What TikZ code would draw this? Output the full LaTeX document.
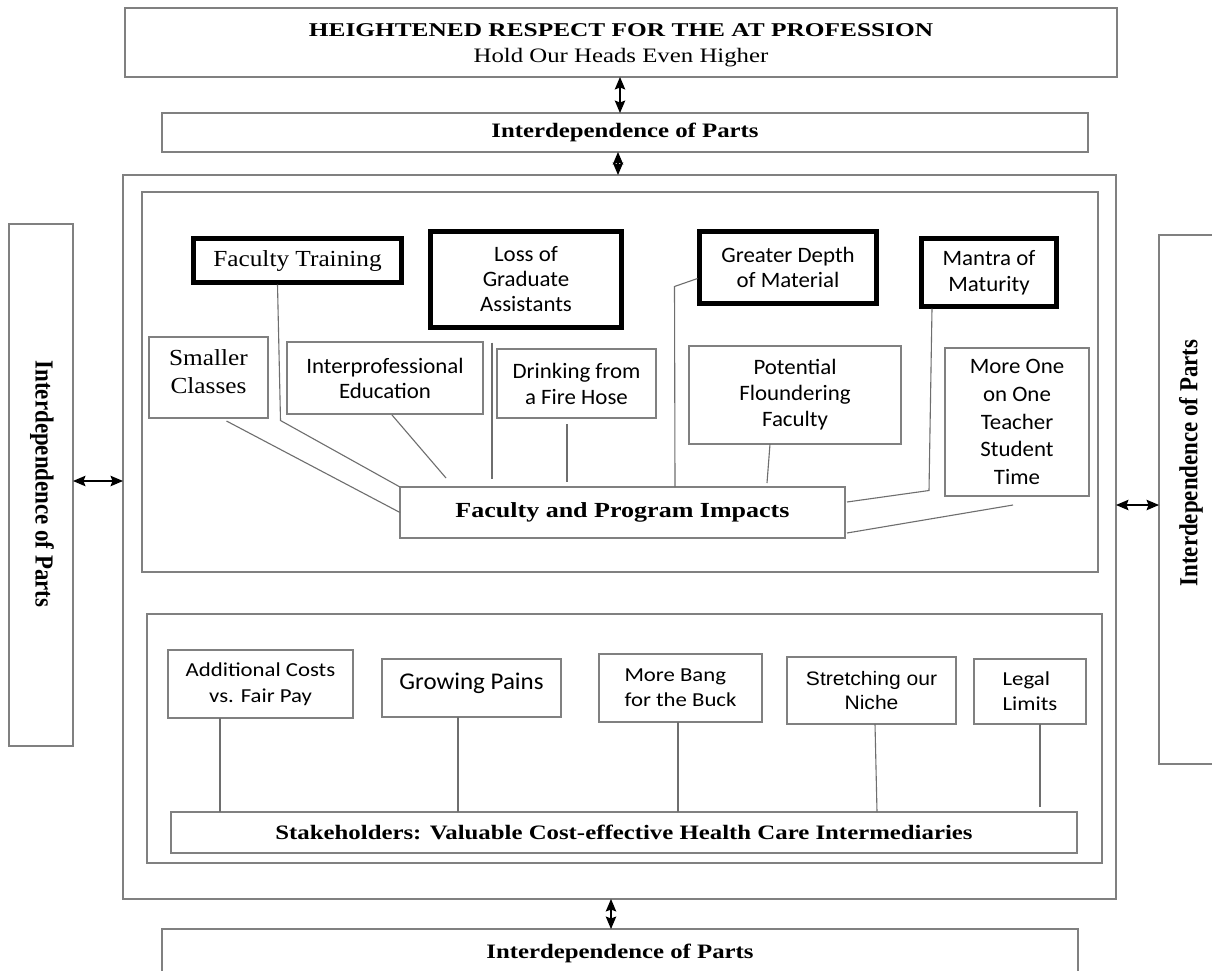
\documentclass[tikz,border=0pt]{standalone}
\usepackage{fontspec}
\usepackage{graphicx}
\setmainfont{Liberation Serif}
\newfontfamily\fTitle[FakeStretch=1.3]{Liberation Serif}
\newfontfamily\fSerW[FakeStretch=1.21]{Liberation Serif}
\newfontfamily\fSerM[FakeStretch=1.1]{Liberation Serif}
\newfontfamily\fRot[FakeStretch=0.88]{Liberation Serif}
\newfontfamily\fSans[FakeStretch=1.04]{Carlito}
\newfontfamily\fSansW[FakeStretch=1.15]{Carlito}
\newfontfamily\fNar[FakeStretch=1.08]{Liberation Sans}
\usetikzlibrary{arrows.meta,calc}
\definecolor{boxgray}{RGB}{128,128,128}
\definecolor{conngray}{RGB}{110,110,110}
\tikzset{
  box/.style={draw=boxgray,line width=1.3pt,inner sep=0pt,outer sep=0pt,align=center},
  heavybox/.style={draw=black,line width=5.5pt,inner sep=0pt,outer sep=0pt,align=center},
  txt/.style={inner sep=0pt,outer sep=0pt,align=center},
  conn/.style={draw=conngray,line width=1.1pt},
  dbl/.style={{Stealth[length=12.5pt,width=10.5pt,inset=2pt]}-{Stealth[length=12.5pt,width=10.5pt,inset=2pt]},line width=1.1pt,draw=black},
  boldser/.style={font={\fSerW\bfseries\fontsize{20.5}{24}\selectfont}},
  upsans/.style={font={\fSans\fontsize{22}{#1}\selectfont}},
  lowsans/.style={font={\fSansW\fontsize{19.8}{#1}\selectfont}},
}
\begin{document}
\begin{tikzpicture}[x=1pt,y=-1pt]
\useasboundingbox (0,0) rectangle (1212,970);
\clip (0,0) rectangle (1212,970);
\fill[white] (0,0) rectangle (1212,970);

% top
\node[box,minimum width=992pt,minimum height=69pt] (top) at (621,42.5) {};
\node[txt,font={\fSerW\fontsize{20.5}{26}\selectfont}] (toptxt) at (621,45)
  {{\fTitle\bfseries\fontsize{19.5}{26}\selectfont HEIGHTENED RESPECT FOR THE AT PROFESSION}\\
   Hold Our Heads Even Higher};
\node[box,boldser,minimum width=926pt,minimum height=39pt] (ib2) at (625,132.5)
  {Interdependence of Parts};

% outer and inner frames
\node[box,minimum width=993pt,minimum height=724pt] (outer) at (619.5,537) {};
\node[box,minimum width=956pt,minimum height=380pt] (upper) at (620,382) {};
\node[box,minimum width=955pt,minimum height=249pt] (lower) at (624.5,738.5) {};

% side boxes
\node[box,minimum width=64pt,minimum height=522pt] (left) at (41,485) {};
\node[txt,rotate=-90] (lefttxt) at (42,484) {\fRot\bfseries\fontsize{26}{28}\selectfont Interdependence of Parts};
\node[box,minimum width=81pt,minimum height=529pt] (right) at (1199.5,499.5) {};
\node[txt,rotate=90] (righttxt) at (1191,463) {\fRot\bfseries\fontsize{26}{28}\selectfont Interdependence of Parts};

% bottom box
\node[box,minimum width=916pt,minimum height=71pt] (bot) at (620,964.5) {};
\node[txt,boldser] (bottxt) at (620,953) {Interdependence of Parts};

% upper heavy boxes
\node[heavybox,minimum width=208pt,minimum height=44pt,font={\fSerM\fontsize{23}{25}\selectfont}] (ft) at (297.5,260.5)
  {Faculty Training};
\node[heavybox,upsans=25,minimum width=191pt,minimum height=96pt] (lga) at (526,279.5)
  {Loss of\\Graduate\\Assistants};
\node[heavybox,upsans=25,minimum width=177pt,minimum height=72pt] (gdm) at (788,267.5)
  {Greater Depth\\of Material};
\node[heavybox,upsans=26,minimum width=135pt,minimum height=68pt] (mm) at (989,272.5)
  {Mantra of\\Maturity};

% upper thin boxes
\node[box,minimum width=119pt,minimum height=81pt] (sc) at (208.5,377.5) {};
\node[txt,font={\fSerM\fontsize{23}{28}\selectfont}] (sctxt) at (208.5,372) {Smaller\\Classes};
\node[box,upsans=25,minimum width=196pt,minimum height=72pt] (ipe) at (385,378)
  {Interprofessional\\Education};
\node[box,upsans=26,minimum width=159pt,minimum height=69pt] (dfh) at (576.5,383.5)
  {Drinking from\\a Fire Hose};
\node[box,upsans=26,minimum width=212pt,minimum height=98pt] (pff) at (795,395)
  {Potential\\Floundering\\Faculty};
\node[box,upsans=27.7,minimum width=144pt,minimum height=148pt] (mot) at (1017,422)
  {More One\\on One\\Teacher\\Student\\Time};
\node[box,font={\fSerW\bfseries\fontsize{21.5}{24}\selectfont},minimum width=445pt,minimum height=51pt] (fpi) at (622.5,512.5)
  {Faculty and Program Impacts};

% upper connectors
\draw[conn] ($(sc.south)+(18,3)$) -- (fpi.west);
\draw[conn] ($(ft.south)+(-20,2)$) -- ++(3,136) -- (fpi.north west);
\draw[conn] ($(ipe.south)+(7,1)$) -- ($(fpi.north west)+(46,-9)$);
\draw[conn] ($(lga.south)+(-34,15)$) -- ($(fpi.north west)+(92,-8)$);
\draw[conn] ($(dfh.south)+(-9.5,6)$) -- ($(fpi.north west)+(167,-5)$);
\draw[conn] ($(gdm.west)+(-2,11)$) -- ++(-23,8) -- ($(fpi.north west)+(275,0)$);
\draw[conn] ($(pff.south)+(-25,0)$) -- ($(fpi.north west)+(367,-4)$);
\draw[conn] ($(mm.south)+(-57,2)$) -- ++(-3,182) -- ($(fpi.east)+(2,-10.5)$);
\draw[conn] ($(mot.south)+(-4,9)$) -- ($(fpi.east)+(2,20.5)$);

% lower boxes
\node[box,lowsans=26,minimum width=185pt,minimum height=68pt] (ac) at (260.5,684)
  {Additional Costs\\vs. Fair Pay};
\node[box,minimum width=179pt,minimum height=58pt] (gp) at (471.5,688) {};
\node[txt,font={\fSans\fontsize{24}{26}\selectfont}] (gptxt) at (471.5,683) {Growing Pains};
\node[box,lowsans=25,minimum width=163pt,minimum height=68pt,align=left] (mb) at (680.5,688)
  {More Bang\\for the Buck};
\node[box,font={\fNar\fontsize{19.5}{24}\selectfont},minimum width=169pt,minimum height=67pt] (sn) at (871.5,690.5)
  {Stretching our\\Niche};
\node[box,lowsans=25,minimum width=112pt,minimum height=65pt,align=left] (ll) at (1030,691.5)
  {Legal\\Limits};
\node[box,font={\fSerW\bfseries\fontsize{20.5}{24}\selectfont},minimum width=906pt,minimum height=41pt] (sh) at (624,832.5)
  {Stakeholders: Valuable Cost-effective Health Care Intermediaries};

% lower connectors
\draw[conn] ([xshift=-40.5pt]ac.south) -- ([xshift=-40.5pt]ac.south |- sh.north);
\draw[conn] ([xshift=-13.5pt]gp.south) -- ([xshift=-13.5pt]gp.south |- sh.north);
\draw[conn] ([xshift=-2.5pt]mb.south) -- ([xshift=-2.5pt]mb.south |- sh.north);
\draw[conn] ([xshift=3.5pt]sn.south) -- ([xshift=5.5pt]sn.south |- sh.north);
\draw[conn] ([xshift=10pt]ll.south) -- ([xshift=10pt,yshift=5pt]ll.south |- sh.north);

% arrows
\draw[dbl] ([xshift=-1pt]top.south) -- ([xshift=-1pt]top.south |- ib2.north);
\draw[dbl] ([xshift=-7pt]ib2.south) -- ([xshift=-7pt]ib2.south |- outer.north);
\draw[dbl] ([xshift=-8.5pt]outer.south) -- ([xshift=-8.5pt]outer.south |- bot.north);
\draw[dbl] (left.east |- 0,481) -- (outer.west |- 0,481);
\draw[dbl] (outer.east |- 0,505) -- (right.west |- 0,505);
\end{tikzpicture}
\end{document}
